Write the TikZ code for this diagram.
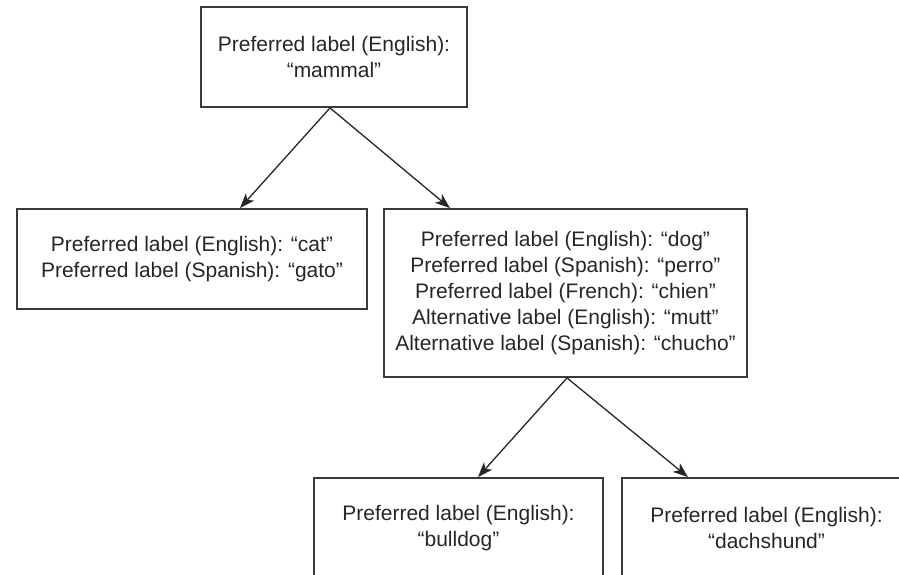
\documentclass[tikz,border=0pt]{standalone}
\usepackage{fontspec}
\setmainfont{Liberation Sans}
\usetikzlibrary{arrows.meta}
\definecolor{ink}{HTML}{262626}
\definecolor{edge}{HTML}{3A3A3A}
\begin{document}
\begin{tikzpicture}[x=1pt,y=-1pt,
  concept/.style={draw=edge,line width=1.8pt,rectangle,inner sep=0pt,
    align=center,text=ink,
    font=\fontsize{21pt}{26pt}\selectfont},
  arr/.style={draw=ink,line width=1.3pt,
    -{Stealth[length=15pt,width=11pt,inset=4pt]}}]
  \useasboundingbox (0,0) rectangle (899,574);
  \clip (0,0) rectangle (899,574);

  % concept boxes
  \node[concept,minimum width=266pt,minimum height=100pt] (mammal) at (334,57)
    {Preferred label (English):\\“mammal”};
  \node[concept,minimum width=350pt,minimum height=100pt] (cat) at (192,259)
    {Preferred label (English): “cat”\\Preferred label (Spanish): “gato”};
  \node[concept,minimum width=363pt,minimum height=168pt] (dog) at (565.5,293)
    {Preferred label (English): “dog”\\
     Preferred label (Spanish): “perro”\\
     Preferred label (French): “chien”\\
     Alternative label (English): “mutt”\\
     Alternative label (Spanish): “chucho”};
  \node[concept,minimum width=289pt,minimum height=100pt] (bulldog) at (458.5,528)
    {Preferred label (English):\\“bulldog”};
  \node[concept,minimum width=289pt,minimum height=100pt] (dachshund) at (766.5,528)
    {Preferred label (English):\\“dachshund”};

  % broader-to-narrower links
  \draw[arr] ([xshift=-4pt]mammal.south) -- ([xshift=48pt]cat.north);
  \draw[arr] ([xshift=-4pt]mammal.south) -- ([xshift=-115.5pt]dog.north);
  \draw[arr] ([xshift=1.5pt]dog.south) -- ([xshift=19.5pt]bulldog.north);
  \draw[arr] ([xshift=1.5pt]dog.south) -- ([xshift=-78.5pt]dachshund.north);
\end{tikzpicture}
\end{document}
